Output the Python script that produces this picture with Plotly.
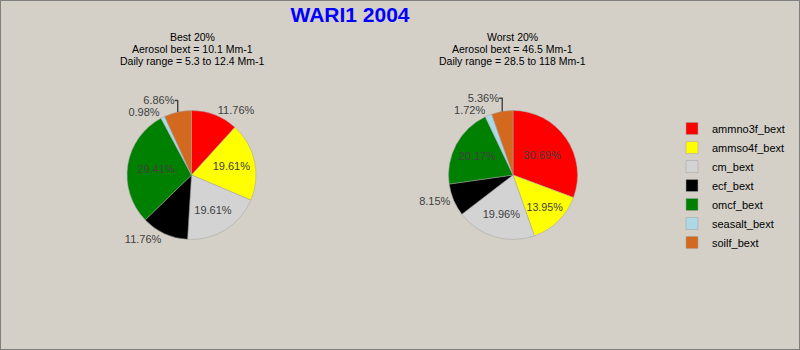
import plotly.graph_objects as go

# Species contributions to aerosol light extinction (percent)
species = ["ammno3f_bext", "ammso4f_bext", "cm_bext", "ecf_bext",
           "omcf_bext", "seasalt_bext", "soilf_bext"]
best_pct = [11.76, 19.61, 19.61, 11.76, 29.41, 0.98, 6.86]
worst_pct = [30.69, 13.95, 19.96, 8.15, 20.17, 1.72, 5.36]

best_pos = ["outside", "inside", "inside", "outside", "inside", "outside", "outside"]
worst_pos = ["inside", "inside", "inside", "outside", "inside", "outside", "outside"]

colors = ["#FF0000", "#FFFF00", "#D3D3D3", "#000000", "#008000", "#ADD8E6", "#D2691E"]

best_title = ["Best 20%", "Aerosol bext = 10.1 Mm-1", "Daily range = 5.3 to 12.4 Mm-1"]
worst_title = ["Worst 20%", "Aerosol bext = 46.5 Mm-1", "Daily range = 28.5 to 118 Mm-1"]

BG = "#D4D0C8"
FONT = "Liberation Sans, Arial, sans-serif"

fig = go.Figure()

def add_pie(values, positions, domain, show_legend):
    fig.add_trace(go.Pie(
        labels=species,
        values=values,
        sort=False,
        direction="clockwise",
        rotation=0,
        marker=dict(colors=colors, line=dict(color="#A0A0A0", width=0.5)),
        texttemplate="%{percent:.2%}",
        textposition=positions,
        insidetextorientation="horizontal",
        textfont=dict(family=FONT, size=11, color="#404040"),
        domain=domain,
        showlegend=show_legend,
        hoverinfo="label+percent",
    ))

add_pie(best_pct, best_pos, dict(x=[0.1588, 0.32], y=[0.315, 0.685]), True)
add_pie(worst_pct, worst_pos, dict(x=[0.5607, 0.7219], y=[0.315, 0.685]), False)

# Three-line subtitle above each pie
for x, lines in [(0.24, best_title), (0.641, worst_title)]:
    for i, line in enumerate(lines):
        fig.add_annotation(x=x, y=1 - (37 + 12 * i) / 350, xref="paper", yref="paper",
                           text=line, showarrow=False, xanchor="center",
                           yanchor="middle", align="center",
                           font=dict(family=FONT, size=10.5, color="#000000"))

fig.update_layout(
    width=800, height=350,
    paper_bgcolor=BG, plot_bgcolor=BG,
    margin=dict(l=0, r=0, t=0, b=0),
    title=dict(text="<b>WARI1 2004</b>", x=0.4375, xanchor="center",
               y=1 - 15 / 350, yanchor="middle",
               font=dict(family=FONT, size=21, color="#0000FF")),
    legend=dict(x=0.84, y=1 - 114 / 350, xanchor="left", yanchor="top",
                font=dict(family=FONT, size=11, color="#000000"),
                bgcolor="rgba(0,0,0,0)", tracegroupgap=0, itemwidth=30),
    shapes=[
        dict(type="rect", xref="paper", yref="paper", x0=0, y0=0, x1=1, y1=1,
             line=dict(color="#808080", width=2), fillcolor="rgba(0,0,0,0)"),
    ],
)

fig.write_html("out.html")
